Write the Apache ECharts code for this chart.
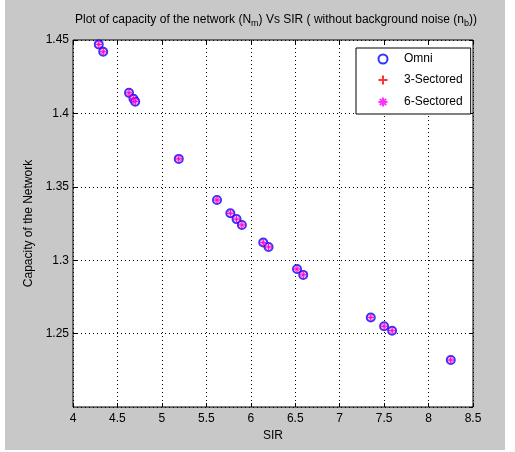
<!DOCTYPE html>
<html>
<head>
<meta charset="utf-8">
<script src="https://cdn.jsdelivr.net/npm/echarts@6/dist/echarts.min.js"></script>
<style>
  html, body { margin: 0; padding: 0; background: #fff; }
  #chart { position: absolute; left: 5px; top: 0; width: 500px; height: 450px; background: #c8c8c8; }
</style>
</head>
<body>
<div id="chart"></div>
<script>
// values (SIR, capacity)
var sir = [4.29, 4.34, 4.63, 4.68, 4.70, 5.19, 5.62, 5.77, 5.84, 5.90, 6.14, 6.20, 6.52, 6.59, 7.35, 7.50, 7.59, 8.25];
var capacityOmni = [1.447, 1.442, 1.414, 1.410, 1.408, 1.369, 1.341, 1.332, 1.328, 1.324, 1.312, 1.309, 1.294, 1.290, 1.261, 1.255, 1.252, 1.232];
var capacity3Sec = capacityOmni.slice();
var capacity6Sec = capacityOmni.slice();
var seriesNames = ["Omni", "3-Sectored", "6-Sectored"];

function pairs(ys) {
  return sir.map(function (x, i) { return [x, ys[i]]; });
}

var myChart = echarts.init(document.getElementById("chart"));
var font = "'Liberation Sans', Arial, sans-serif";

var plusPath = "path://M5,0 L5,10 M0,5 L10,5";
var starPath = "path://M5,0 L5,10 M0,5 L10,5 M1.5,1.5 L8.5,8.5 M8.5,1.5 L1.5,8.5";

var option = {
  animation: false,
  textStyle: { fontFamily: font },
  title: {
    text: "Plot of capacity of the network (N{sub|m}) Vs SIR ( without background noise (n{sub|b}))",
    left: 266,
    textAlign: "center",
    top: 6,
    textStyle: {
      fontSize: 12,
      fontWeight: "normal",
      color: "#000",
      fontFamily: font,
      rich: {
        sub: { fontSize: 9, padding: [8, 0, 0, 0], fontFamily: font, color: "#000" }
      }
    }
  },
  legend: {
    orient: "vertical",
    left: 351,
    top: 48,
    width: 112,
    padding: [5, 8, 5, 20],
    itemGap: 8,
    itemWidth: 12,
    itemHeight: 9,
    backgroundColor: "#fff",
    borderColor: "#000",
    borderWidth: 1,
    borderRadius: 0,
    textStyle: { fontSize: 12, color: "#000", fontFamily: font, padding: [0, 0, 0, 10] },
    data: seriesNames
  },
  grid: {
    left: 68,
    right: 32,
    top: 40,
    bottom: 43,
    show: true,
    backgroundColor: "#fff",
    borderColor: "#000",
    borderWidth: 1
  },
  xAxis: [
    {
      type: "value",
      min: 4,
      max: 8.5,
      interval: 0.5,
      name: "SIR",
      nameLocation: "middle",
      nameGap: 21,
      nameTextStyle: { fontSize: 12, color: "#000" },
      axisLine: { show: false },
      axisTick: { inside: true, length: 4, lineStyle: { color: "#000" } },
      axisLabel: { fontSize: 12, color: "#000", margin: 6 },
      splitLine: { show: true, lineStyle: { color: "#000", type: [1, 3], width: 1 } }
    },
    {
      type: "value",
      position: "top",
      min: 4,
      max: 8.5,
      interval: 0.5,
      axisLine: { show: false },
      axisTick: { inside: true, length: 4, lineStyle: { color: "#000" } },
      axisLabel: { show: false },
      splitLine: { show: false }
    }
  ],
  yAxis: [
    {
      type: "value",
      min: 1.2,
      max: 1.45,
      interval: 0.05,
      name: "Capacity of the Network",
      nameLocation: "middle",
      nameGap: 36,
      nameTextStyle: { fontSize: 12, color: "#000" },
      axisLine: { show: false },
      axisTick: { inside: true, length: 4, lineStyle: { color: "#000" } },
      axisLabel: { fontSize: 12, color: "#000", margin: 4, showMinLabel: false },
      splitLine: { show: true, lineStyle: { color: "#000", type: [1, 3], width: 1 } }
    },
    {
      type: "value",
      position: "right",
      min: 1.2,
      max: 1.45,
      interval: 0.05,
      axisLine: { show: false },
      axisTick: { inside: true, length: 4, lineStyle: { color: "#000" } },
      axisLabel: { show: false },
      splitLine: { show: false }
    }
  ],
  series: [
    {
      name: seriesNames[0],
      type: "scatter",
      symbol: "emptyCircle",
      symbolSize: 8,
      itemStyle: { color: "#0000ff", borderColor: "#0000ff", borderWidth: 1.2 },
      data: pairs(capacityOmni)
    },
    {
      name: seriesNames[1],
      type: "scatter",
      symbol: plusPath,
      symbolSize: 8,
      itemStyle: { color: "none", borderColor: "#ff0000", borderWidth: 1 },
      data: pairs(capacity3Sec)
    },
    {
      name: seriesNames[2],
      type: "scatter",
      symbol: starPath,
      symbolSize: 8,
      itemStyle: { color: "none", borderColor: "#ff00ff", borderWidth: 1 },
      data: pairs(capacity6Sec)
    }
  ]
};

myChart.setOption(option);
</script>
</body>
</html>
